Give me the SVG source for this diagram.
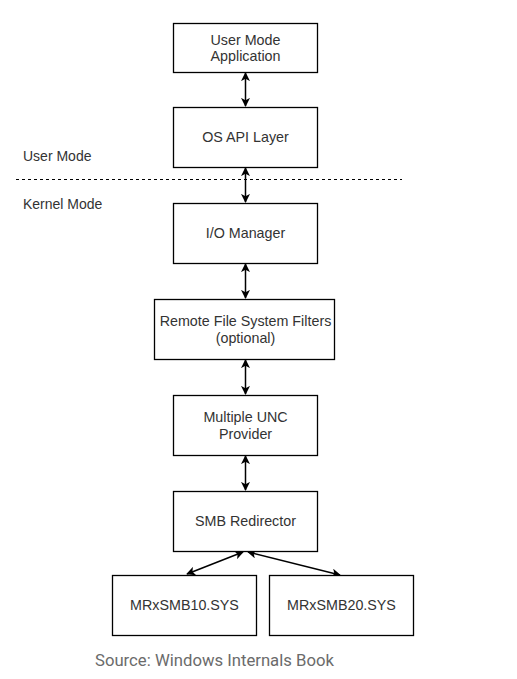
<svg xmlns="http://www.w3.org/2000/svg" width="517" height="679" viewBox="0 0 517 679">
<style>
.box{fill:#fff;stroke:#000;stroke-width:1.3}
.t{font-family:"Liberation Sans",Arial,sans-serif;font-size:14.3px;fill:#333;text-anchor:middle}
.lbl{font-family:"Liberation Sans",Arial,sans-serif;font-size:14px;fill:#333}
.c{stroke:#000;stroke-width:1.5;fill:none;marker-start:url(#ah);marker-end:url(#ah)}
</style>
<defs>
<marker id="ah" viewBox="0 0 10 10" refX="9" refY="5" markerWidth="9" markerHeight="9" markerUnits="userSpaceOnUse" orient="auto-start-reverse">
<path d="M0,0 L10,5 L0,10 L2.5,5 z" fill="#000"/>
</marker>
</defs>
<rect width="517" height="679" fill="#fff"/>
<g id="modes">
<line x1="16" y1="179.5" x2="402" y2="179.5" stroke="#000" stroke-width="1" stroke-dasharray="3,3"/>
<text class="lbl" x="23" y="160.5">User Mode</text>
<text class="lbl" x="23" y="208.5">Kernel Mode</text>
</g>
<g id="connectors">
<line class="c" x1="245.5" y1="73" x2="245.5" y2="106"/>
<line class="c" x1="245.5" y1="168" x2="245.5" y2="202"/>
<line class="c" x1="245.5" y1="264" x2="245.5" y2="298"/>
<line class="c" x1="245.5" y1="360" x2="245.5" y2="394"/>
<line class="c" x1="245.5" y1="456" x2="245.5" y2="490"/>
<line class="c" x1="243" y1="552" x2="187" y2="574"/>
<line class="c" x1="248" y1="552" x2="340" y2="575"/>
</g>
<g id="n1"><rect class="box" x="173.5" y="23.5" width="144" height="49"/><text class="t" x="245.5" y="44.5">User Mode</text><text class="t" x="245.5" y="61">Application</text></g>
<g id="n2"><rect class="box" x="173.5" y="107.5" width="144" height="60"/><text class="t" x="245.5" y="142">OS API Layer</text></g>
<g id="n3"><rect class="box" x="173.5" y="203.5" width="144" height="60"/><text class="t" x="245.5" y="238">I/O Manager</text></g>
<g id="n4"><rect class="box" x="154.5" y="299.5" width="180" height="60"/><text class="t" x="245.5" y="326">Remote File System Filters</text><text class="t" x="245.5" y="342.5">(optional)</text></g>
<g id="n5"><rect class="box" x="173.5" y="395.5" width="144" height="60"/><text class="t" x="245.5" y="422">Multiple UNC</text><text class="t" x="245.5" y="438.5">Provider</text></g>
<g id="n6"><rect class="box" x="173.5" y="491.5" width="144" height="60"/><text class="t" x="245.5" y="526">SMB Redirector</text></g>
<g id="n7"><rect class="box" x="112.5" y="575.5" width="144" height="60"/><text class="t" x="184.5" y="610">MRxSMB10.SYS</text></g>
<g id="n8"><rect class="box" x="269.5" y="575.5" width="144" height="60"/><text class="t" x="341.5" y="610">MRxSMB20.SYS</text></g>
<text x="95" y="666" font-family="Roboto,'Liberation Sans',sans-serif" font-size="16.7" fill="#6b6b6b">Source: Windows Internals Book</text>
</svg>
